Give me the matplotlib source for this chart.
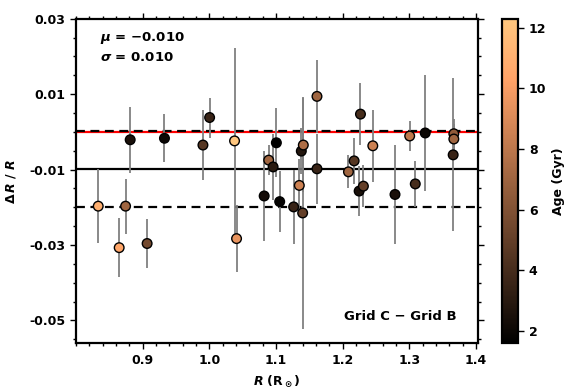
import matplotlib
matplotlib.use("Agg")
import matplotlib.pyplot as plt
import numpy as np
from matplotlib.ticker import MultipleLocator, FormatStrFormatter

plt.rcParams['font.family'] = 'DejaVu Sans'
plt.rcParams['font.weight'] = 'bold'
plt.rcParams['font.size'] = 9
plt.rcParams['mathtext.fontset'] = 'custom'
plt.rcParams['mathtext.rm'] = 'DejaVu Sans:bold'
plt.rcParams['mathtext.it'] = 'DejaVu Sans:bold:italic'
plt.rcParams['mathtext.bf'] = 'DejaVu Sans:bold'

# radius, relative difference, its error and the age of each star
radius = [0.8333, 0.8647, 0.8743, 0.8812, 0.9066, 0.9326, 0.9903, 1.0003,
          1.0377, 1.0407, 1.0889, 1.0955, 1.1004, 1.0821, 1.1054, 1.1263,
          1.1348, 1.1398, 1.1378, 1.1408, 1.1613, 1.1613, 1.2085, 1.2170,
          1.2245, 1.2309, 1.2265, 1.2450, 1.2783, 1.3087, 1.3003, 1.3236,
          1.3665, 1.3665, 1.3655]
dR = [-0.0197, -0.0307, -0.0197, -0.0021, -0.0296, -0.0017, -0.0035, 0.0038,
      -0.0024, -0.0283, -0.0075, -0.0093, -0.0029, -0.0170, -0.0185, -0.0199,
      -0.0142, -0.0215, -0.0051, -0.0035, 0.0094, -0.0098, -0.0106, -0.0077,
      -0.0157, -0.0144, 0.0047, -0.0037, -0.0166, -0.0138, -0.0011, -0.0003,
      -0.0005, -0.0019, -0.0061]
dR_err = [0.0098, 0.0079, 0.0073, 0.0087, 0.0064, 0.0064, 0.0093, 0.0053,
          0.0247, 0.0089, 0.0040, 0.0087, 0.0091, 0.0120, 0.0080, 0.0098,
          0.0071, 0.0308, 0.0060, 0.0125, 0.0096, 0.0092, 0.0044, 0.0062,
          0.0067, 0.0056, 0.0083, 0.0096, 0.0130, 0.0060, 0.0041, 0.0153,
          0.0040, 0.0040, 0.0203]
age = [11.0, 10.5, 7.0, 2.5, 5.5, 2.0, 4.5, 3.5,
       12.3, 9.5, 7.0, 3.0, 1.6, 2.3, 1.8, 3.5,
       8.5, 5.0, 2.8, 7.5, 7.0, 3.5, 7.0, 4.5,
       2.5, 5.0, 4.0, 8.5, 2.5, 4.0, 8.0, 2.0,
       6.5, 7.0, 3.5]

mu = -0.0098
sigma = 0.0100

fig = plt.figure(figsize=(5.76, 3.89), dpi=100)
ax = fig.add_axes([0.132, 0.118, 0.697, 0.834])
cax = fig.add_axes([0.872, 0.118, 0.028, 0.834])

ax.errorbar(radius, dR, yerr=dR_err, fmt='none', ecolor='gray', elinewidth=1.3, zorder=2)
sc = ax.scatter(radius, dR, c=age, cmap='copper', vmin=1.6, vmax=12.3, s=48,
                edgecolors='black', linewidths=1.0, zorder=4)

ax.axhline(0.0, color='red', lw=1.6, zorder=1)
ax.axhline(mu, color='black', lw=1.6, zorder=1)
ax.axhline(mu + sigma, color='black', lw=1.6, ls='--', dashes=(4, 2.5), zorder=1)
ax.axhline(mu - sigma, color='black', lw=1.6, ls='--', dashes=(4, 2.5), zorder=1)

ax.set_xlim(0.8, 1.402)
ax.set_ylim(-0.056, 0.03)
ax.set_xticks([0.9, 1.0, 1.1, 1.2, 1.3, 1.4])
ax.set_yticks([-0.05, -0.03, -0.01, 0.01, 0.03])
ax.xaxis.set_minor_locator(MultipleLocator(0.02))
ax.yaxis.set_minor_locator(MultipleLocator(0.005))
ax.xaxis.set_major_formatter(FormatStrFormatter('%.1f'))
ax.yaxis.set_major_formatter(FormatStrFormatter('%.2f'))
ax.tick_params(which='both', direction='out', top=True, right=True, width=1.0)
ax.tick_params(which='major', length=4)
ax.tick_params(which='minor', length=2.5)
for s in ax.spines.values():
    s.set_linewidth(1.6)

ax.set_xlabel(r'$R$ (R$_\odot$)', fontweight='bold', labelpad=5)
ax.set_ylabel(r'$\Delta\,R\ /\ R$', fontweight='bold', labelpad=8)

ax.text(0.06, 0.94, r'$\mu$ = $-$0.010', transform=ax.transAxes, fontsize=9.5,
        fontweight='bold', va='center')
ax.text(0.06, 0.88, r'$\sigma$ = 0.010', transform=ax.transAxes, fontsize=9.5,
        fontweight='bold', va='center')
ax.text(0.807, 0.083, 'Grid C \u2212 Grid B', transform=ax.transAxes, fontsize=9.5,
        fontweight='bold', ha='center', va='center')

cb = fig.colorbar(sc, cax=cax)
cb.set_ticks([2, 4, 6, 8, 10, 12])
cb.set_label('Age (Gyr)', fontweight='bold')
cb.outline.set_linewidth(1.6)
cax.tick_params(direction='out', length=4, width=1.0)

fig.savefig('out.png', dpi=100)
